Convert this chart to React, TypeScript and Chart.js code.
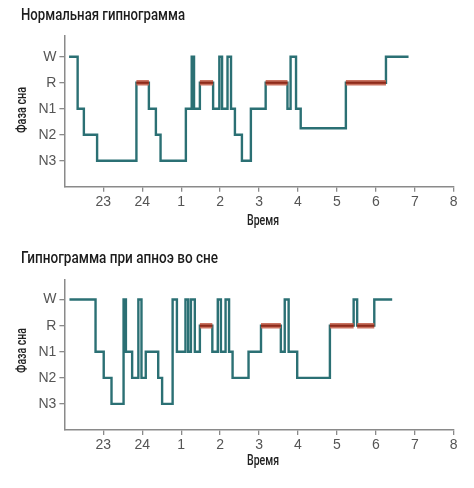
import React, { useEffect, useRef } from "react";
import { Chart, registerables } from "chart.js";

Chart.register(...registerables);

// ---- data ----
const hourTicks = [23, 24, 25, 26, 27, 28, 29, 30, 31, 32];
const hourLabels = ["23", "24", "1", "2", "3", "4", "5", "6", "7", "8"];
const stageValues = [1, 2, 3, 4, 5];
const stageLabels = ["N3", "N2", "N1", "R", "W"];
const REM = 4;

const normalTimes = [22.12, 22.34, 22.5, 22.84, 23.85, 24.17, 24.35, 24.47, 25.12, 25.27, 25.33, 25.48, 25.82, 25.98, 26.05, 26.19, 26.28, 26.38, 26.56, 26.79, 27.17, 27.73, 27.81, 27.95, 28.07, 29.23, 30.26, 30.84];
const normalStages = [5, 3, 2, 1, 4, 3, 2, 1, 3, 5, 3, 4, 3, 5, 3, 5, 3, 2, 1, 3, 4, 3, 5, 3, 2.25, 4, 5, 5];

const apneaTimes = [22.13, 22.8, 23.01, 23.21, 23.52, 23.58, 23.74, 23.9, 23.98, 24.09, 24.41, 24.51, 24.78, 24.89, 25.11, 25.18, 25.25, 25.35, 25.48, 25.8, 25.94, 26.02, 26.14, 26.23, 26.32, 26.73, 27.05, 27.56, 27.66, 27.76, 27.98, 28.82, 29.43, 29.52, 29.96, 30.42];
const apneaStages = [5, 3, 2, 1, 5, 3, 2, 5, 2, 3, 2, 1, 5, 3, 5, 3, 5, 3, 4, 3, 5, 3, 5, 3, 2, 3, 4, 3, 5, 3, 2, 4, 5, 4, 5, 5];

const normalTitle = "Нормальная гипнограмма";
const apneaTitle = "Гипнограмма при апноэ во сне";
const xTitle = "Время";
const yTitle = "Фаза сна";

// ---- style ----
const TEAL = "#2b7074";
const AXIS = "#8a8a8a";
const LABEL_FONT = "Roboto, 'Liberation Sans', sans-serif";
const SANS = "'Liberation Sans', Arial, Helvetica, sans-serif";

function remSegments(times: number[], stages: number[]) {
  const pts: any[] = [];
  for (let i = 0; i < times.length - 1; i++) {
    if (stages[i] === REM) {
      pts.push({ x: times[i], y: REM }, { x: times[i + 1], y: REM }, { x: times[i + 1], y: null });
    }
  }
  return pts;
}

function Hypnogram({ times, stages, yMax, xHeight }: { times: number[]; stages: number[]; yMax: number; xHeight: number }) {
  const ref = useRef<HTMLCanvasElement>(null);
  useEffect(() => {
    if (!ref.current) return;
    const rem = remSegments(times, stages);
    const chart = new Chart(ref.current, {
      type: "line",
      data: {
        datasets: [
          {
            data: times.map((t, i) => ({ x: t, y: stages[i] })),
            order: 3,
            stepped: true,
            borderColor: TEAL,
            borderWidth: 2.4,
            pointRadius: 0,
            fill: false,
            borderJoinStyle: "miter",
            borderCapStyle: "butt",
          },
          {
            data: rem,
            order: 2,
            borderColor: "rgba(196,100,80,0.9)",
            borderWidth: 5.5,
            pointRadius: 0,
            spanGaps: false,
            borderCapStyle: "butt",
          },
          {
            data: rem,
            order: 1,
            borderColor: "#8e2a1a",
            borderWidth: 2,
            pointRadius: 0,
            spanGaps: false,
            borderCapStyle: "butt",
          },
        ] as any,
      },
      options: {
        animation: false,
        responsive: true,
        maintainAspectRatio: false,
        layout: { padding: { top: 36, right: 20.3, left: 0, bottom: 0 } },
        plugins: { legend: { display: false }, tooltip: { enabled: false }, title: { display: false } },
        scales: {
          x: {
            type: "linear",
            min: 22,
            max: 32,
            afterBuildTicks: (s: any) => {
              s.ticks = hourTicks.map((v) => ({ value: v }));
            },
            afterFit: (s: any) => {
              s.height = xHeight;
            },
            ticks: {
              callback: (v: any) => hourLabels[hourTicks.indexOf(Number(v))] ?? null,
              font: { family: SANS, size: 14 },
              color: "#555",
              padding: 2,
              maxRotation: 0,
            },
            grid: { drawOnChartArea: false, drawTicks: true, tickLength: 5, color: AXIS, lineWidth: 1.3 },
            border: { display: true, color: AXIS, width: 1.5 },
          },
          y: {
            type: "linear",
            min: 0,
            max: yMax,
            afterBuildTicks: (s: any) => {
              s.ticks = stageValues.map((v) => ({ value: v }));
            },
            afterFit: (s: any) => {
              s.width = 64.4;
            },
            ticks: {
              callback: (v: any) => stageLabels[stageValues.indexOf(Number(v))] ?? null,
              font: { family: SANS, size: 14 },
              color: "#555",
              padding: 3,
            },
            grid: { drawOnChartArea: false, drawTicks: true, tickLength: 5, color: AXIS, lineWidth: 1.3 },
            border: { display: true, color: AXIS, width: 1.5 },
          },
        },
      } as any,
    });
    return () => chart.destroy();
  }, [times, stages, yMax, xHeight]);
  return <canvas ref={ref} />;
}

let measureCtx: CanvasRenderingContext2D | null = null;
function textWidth(text: string, font: string) {
  if (!measureCtx) measureCtx = document.createElement("canvas").getContext("2d");
  measureCtx!.font = font;
  return measureCtx!.measureText(text).width;
}

// Condensed text label: real HTML text, squeezed horizontally to the given width.
function Label({ text, left, top, size, width, weight = 400, rotate = false, color = "#1c1c1c" }: {
  text: string; left: number; top: number; size: number; width: number; weight?: number; rotate?: boolean; color?: string;
}) {
  const natural = textWidth(text, `${weight} ${size}px ${LABEL_FONT}`) || width;
  const k = width / natural;
  const transform = rotate ? `rotate(-90deg) scaleX(${k})` : `scaleX(${k})`;
  return (
    <div
      style={{
        position: "absolute",
        left,
        top,
        fontFamily: LABEL_FONT,
        fontSize: size,
        fontWeight: weight,
        lineHeight: 1,
        color,
        whiteSpace: "nowrap",
        transformOrigin: "left top",
        transform,
      }}
    >
      {text}
    </div>
  );
}

export default function App() {
  return (
    <div style={{ position: "absolute", left: 0, top: 0, width: 474, height: 488, background: "#fff", overflow: "hidden" }}>
      <div style={{ position: "absolute", left: 0, top: 0, width: 474, height: 244 }}>
        <Hypnogram times={normalTimes} stages={normalStages} yMax={5.8} xHeight={57.3} />
      </div>
      <div style={{ position: "absolute", left: 0, top: 244, width: 474, height: 244 }}>
        <Hypnogram times={apneaTimes} stages={apneaStages} yMax={5.75} xHeight={58} />
      </div>
      <Label text={normalTitle} left={21} top={6.0} size={17.4} width={164} weight={500} />
      <Label text={apneaTitle} left={21} top={249.4} size={17.4} width={197} weight={500} />
      <Label text={xTitle} left={246.5} top={213.8} size={14.5} width={32} weight={500} color="#222" />
      <Label text={xTitle} left={246.5} top={453.8} size={14.5} width={32} weight={500} color="#222" />
      <Label text={yTitle} left={14} top={133.3} size={15} width={46} weight={500} rotate color="#222" />
      <Label text={yTitle} left={14} top={373.3} size={15} width={45} weight={500} rotate color="#222" />
    </div>
  );
}
